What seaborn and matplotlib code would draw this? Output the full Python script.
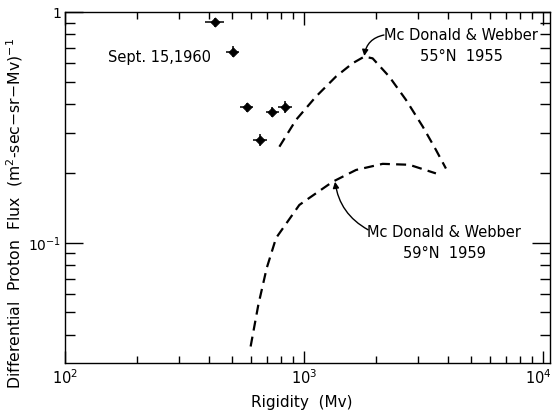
import numpy as np
import pandas as pd
import matplotlib
matplotlib.use("Agg")
import matplotlib.pyplot as plt
import matplotlib.transforms as mtransforms
import seaborn as sns

# ---- data ----
obs_rigidity = [424, 503, 575, 654, 737, 833]
obs_flux = [0.902, 0.673, 0.387, 0.279, 0.368, 0.387]
obs_rig_lo = [385, 472, 540, 614, 691, 781]
obs_rig_hi = [463, 536, 614, 698, 786, 889]
obs_flux_lo = [0.86, 0.64, 0.37, 0.262, 0.35, 0.365]
obs_flux_hi = [0.945, 0.71, 0.405, 0.297, 0.386, 0.41]

mw55_rigidity = [789, 926, 1122, 1360, 1598, 1788, 1937, 2274, 2673, 3140, 3565, 3926]
mw55_flux = [0.261, 0.341, 0.430, 0.525, 0.600, 0.641, 0.630, 0.525, 0.416, 0.319, 0.253, 0.210]

mw59_rigidity = [598, 644, 698, 764, 956, 1019, 1318, 1651, 2134, 2758, 3565]
mw59_flux = [0.0356, 0.0539, 0.0777, 0.105, 0.146, 0.153, 0.184, 0.207, 0.220, 0.218, 0.200]

x_ticks = [1e2, 1e3, 1e4]
x_ticklabels = [r"$10^2$", r"$10^3$", r"$10^4$"]
y_ticks = [1e-1, 1.0]
y_ticklabels = [r"$10^{-1}$", "1"]

sns.set_theme(style="ticks")
plt.rcParams['font.family'] = ['DejaVu Sans']
plt.rcParams['mathtext.fontset'] = 'dejavusans'
plt.rcParams['text.color'] = 'black'
plt.rcParams['axes.labelcolor'] = 'black'
plt.rcParams['xtick.color'] = 'black'
plt.rcParams['ytick.color'] = 'black'

fig = plt.figure(figsize=(5.52, 4.11), dpi=100)
ax = fig.add_axes([65/552, (411-363)/411, (550-65)/552, (363-12)/411])

curves = pd.concat([
    pd.DataFrame({"rigidity": mw55_rigidity, "flux": mw55_flux, "set": "55N 1955"}),
    pd.DataFrame({"rigidity": mw59_rigidity, "flux": mw59_flux, "set": "59N 1959"}),
])
for name, grp in curves.groupby("set"):
    sns.lineplot(data=grp, x="rigidity", y="flux", ax=ax, sort=False, estimator=None,
                 color="black", lw=1.6, dashes=False, legend=False)
for line in ax.lines:
    line.set_dashes((4.5, 2.8))

xerr = [np.array(obs_rigidity) - np.array(obs_rig_lo), np.array(obs_rig_hi) - np.array(obs_rigidity)]
yerr = [np.array(obs_flux) - np.array(obs_flux_lo), np.array(obs_flux_hi) - np.array(obs_flux)]
ax.errorbar(obs_rigidity, obs_flux, xerr=xerr, yerr=yerr, fmt="none", ecolor="black",
            elinewidth=1.1, capsize=0)
sns.scatterplot(x=obs_rigidity, y=obs_flux, ax=ax, marker="D", s=22, color="black",
                edgecolor="black", linewidth=0.5, legend=False, zorder=5)

ax.set_xscale("log")
ax.set_yscale("log")
ax.set_xlim(100, 10700)
ax.set_ylim(0.0302, 1.0)

ax.set_xticks(x_ticks)
ax.set_xticklabels(x_ticklabels, fontsize=10.5)
ax.set_yticks(y_ticks)
ax.set_yticklabels(y_ticklabels, fontsize=10)
ax.xaxis.set_minor_formatter(matplotlib.ticker.NullFormatter())
ax.yaxis.set_minor_formatter(matplotlib.ticker.NullFormatter())
ax.xaxis.set_minor_locator(matplotlib.ticker.LogLocator(base=10, subs=np.arange(2, 10)))
ax.yaxis.set_minor_locator(matplotlib.ticker.LogLocator(base=10, subs=np.arange(2, 10)))

ax.tick_params(axis="x", which="major", direction="in", length=9, width=1.0,
               top=True, bottom=True, pad=4, colors="black")
ax.tick_params(axis="x", which="minor", direction="in", length=5, width=1.0,
               top=True, bottom=True)
ax.tick_params(axis="y", which="major", direction="in", length=13, width=1.0,
               left=True, right=True, pad=2.5, colors="black")
ax.tick_params(axis="y", which="minor", direction="in", length=7, width=1.0,
               left=True, right=True)
for s in ax.spines.values():
    s.set_visible(True)
    s.set_linewidth(1.0)
    s.set_color("black")

# nudge the 10^4 label left so it stays inside the figure
lbl = ax.get_xticklabels()[-1]
lbl.set_transform(lbl.get_transform() + mtransforms.ScaledTranslation(-5/100, 0, fig.dpi_scale_trans))

ax.set_xlabel("Rigidity  (Mv)", fontsize=11, color="black")
ax.set_ylabel(r"Differential  Proton  Flux  (m$^2$-sec$-$sr$-$Mv)$^{-1}$", fontsize=11.3, color="black")
ax.xaxis.set_label_coords(0.489, -0.09)
ax.yaxis.set_label_coords(-0.082, 0.427)

ax.text(151, 0.638, "Sept. 15,1960", fontsize=10.5, ha="left", va="center")
ax.text(4540, 0.712, "Mc Donald & Webber\n55°N  1955", fontsize=10.5, ha="center",
        va="center", linespacing=1.5)
ax.text(3855, 0.0996, "Mc Donald & Webber\n59°N  1959", fontsize=10.5, ha="center",
        va="center", linespacing=1.5)

ax.annotate("", xy=(1788, 0.645), xytext=(2160, 0.795),
            arrowprops=dict(arrowstyle="-|>", color="black", lw=1.0,
                            connectionstyle="arc3,rad=0.35", mutation_scale=9,
                            shrinkA=0, shrinkB=0))
ax.annotate("", xy=(1349, 0.184), xytext=(1854, 0.114),
            arrowprops=dict(arrowstyle="-|>", color="black", lw=1.0,
                            connectionstyle="arc3,rad=-0.25", mutation_scale=9,
                            shrinkA=0, shrinkB=0))

fig.savefig("out.png", dpi=100)
